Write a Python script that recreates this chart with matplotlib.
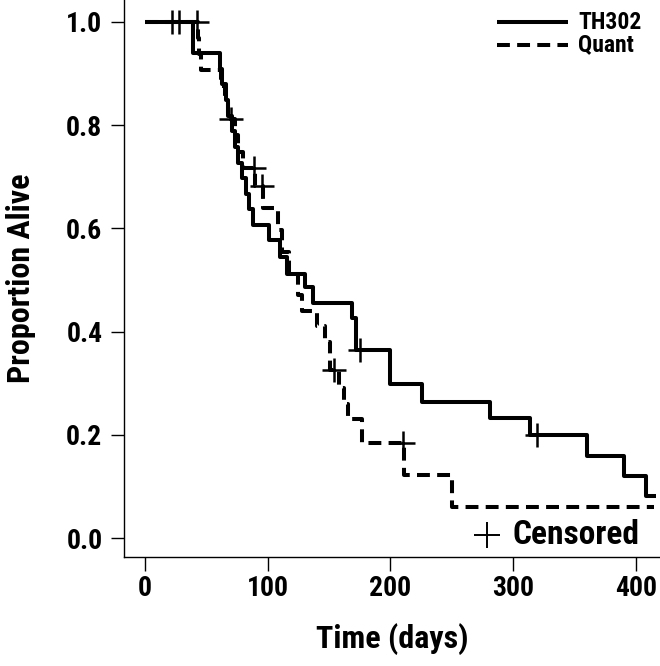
import matplotlib
matplotlib.use("Agg")
import matplotlib.pyplot as plt
import numpy as np

# ---- data ----
th302_times = [0, 39, 61, 63, 66, 68, 71, 73, 76, 79, 82, 85, 88, 101, 110, 116, 130, 137,
               169, 172, 200, 226, 281, 314, 360, 390, 408, 416]
th302_surv = [1.0, 0.939, 0.909, 0.879, 0.848, 0.818, 0.788, 0.758, 0.727, 0.697, 0.667, 0.637,
              0.607, 0.578, 0.545, 0.512, 0.487, 0.455, 0.426, 0.364, 0.298, 0.264, 0.233,
              0.200, 0.159, 0.120, 0.081, 0.081]
th302_censored = [22, 28, 175, 319]

quant_times = [0, 43, 44, 46, 62, 65, 68, 73, 76, 80, 90, 96, 108, 112, 117, 125, 128, 140,
               147, 151, 158, 162, 165, 177, 211, 250, 415]
quant_surv = [1.0, 0.969, 0.938, 0.906, 0.875, 0.844, 0.812, 0.781, 0.749, 0.718, 0.683, 0.640,
              0.597, 0.555, 0.512, 0.470, 0.440, 0.410, 0.380, 0.326, 0.290, 0.260, 0.230,
              0.184, 0.123, 0.061, 0.061]
quant_censored = [42, 70, 89, 95, 154, 210]

series_labels = ["TH302", "Quant"]
x_ticks = [0, 100, 200, 300, 400]
y_ticks = [0.0, 0.2, 0.4, 0.6, 0.8, 1.0]

# ---- font ----
plt.rcParams["font.family"] = ["Roboto Condensed", "Liberation Sans", "DejaVu Sans"]
plt.rcParams["font.weight"] = "bold"

fig = plt.figure(figsize=(6.6, 6.66), dpi=100)
ax = fig.add_axes([124 / 660, 109 / 666, 536 / 660, 557 / 666])

lw = 2.9
dash = (0, (3.2, 1.8))
ax.step(th302_times, th302_surv, where="post", color="black", lw=lw, solid_capstyle="butt")
ax.step(quant_times, quant_surv, where="post", color="black", lw=lw, linestyle=dash,
        dash_capstyle="butt")


def level(times, surv, t):
    idx = np.searchsorted(times, t, side="right") - 1
    return surv[idx]


for times, surv, cens in [(th302_times, th302_surv, th302_censored),
                          (quant_times, quant_surv, quant_censored)]:
    ys = [level(times, surv, c) for c in cens]
    ax.plot(cens, ys, linestyle="none", marker="+", color="black", markersize=17, mew=1.8)

ax.set_xlim(-17.1, 419.6)
ax.set_ylim(-0.0368, 1.0426)
ax.set_xticks(x_ticks)
ax.set_xticklabels([str(v) for v in x_ticks])
ax.set_yticks(y_ticks)
ax.set_yticklabels([f"{v:.1f}" for v in y_ticks])
for s in ["top", "right"]:
    ax.spines[s].set_visible(False)
for s in ["left", "bottom"]:
    ax.spines[s].set_linewidth(1.0)
ax.tick_params(axis="both", direction="out", length=9.5, width=1.0, labelsize=20, pad=6)
ax.tick_params(axis="x", length=10, pad=3)
for lab in ax.get_xticklabels() + ax.get_yticklabels():
    lab.set_fontweight("bold")

ax.set_xlabel("Time (days)", fontsize=23, fontweight="bold", labelpad=15)
ax.set_ylabel("Proportion Alive", fontsize=23, fontweight="bold", labelpad=22)

# legend (top right), drawn in axes coordinates
ax.plot([0.696, 0.828], [0.9605, 0.9605], transform=ax.transAxes, color="black", lw=lw,
        solid_capstyle="butt")
ax.plot([0.696, 0.828], [0.919, 0.919], transform=ax.transAxes, color="black", lw=lw,
        linestyle=dash, dash_capstyle="butt")
ax.text(0.847, 0.9605, series_labels[0], transform=ax.transAxes, fontsize=17,
        fontweight="bold", va="center", ha="left")
ax.text(0.847, 0.919, series_labels[1], transform=ax.transAxes, fontsize=17,
        fontweight="bold", va="center", ha="left")

# censored key
ax.plot([0.677], [0.0395], transform=ax.transAxes, marker="+", color="black",
        markersize=19, mew=1.4, linestyle="none")
ax.text(0.724, 0.0395, "Censored", transform=ax.transAxes, fontsize=24, fontweight="bold",
        va="center", ha="left")

fig.savefig("out.png", dpi=100)
